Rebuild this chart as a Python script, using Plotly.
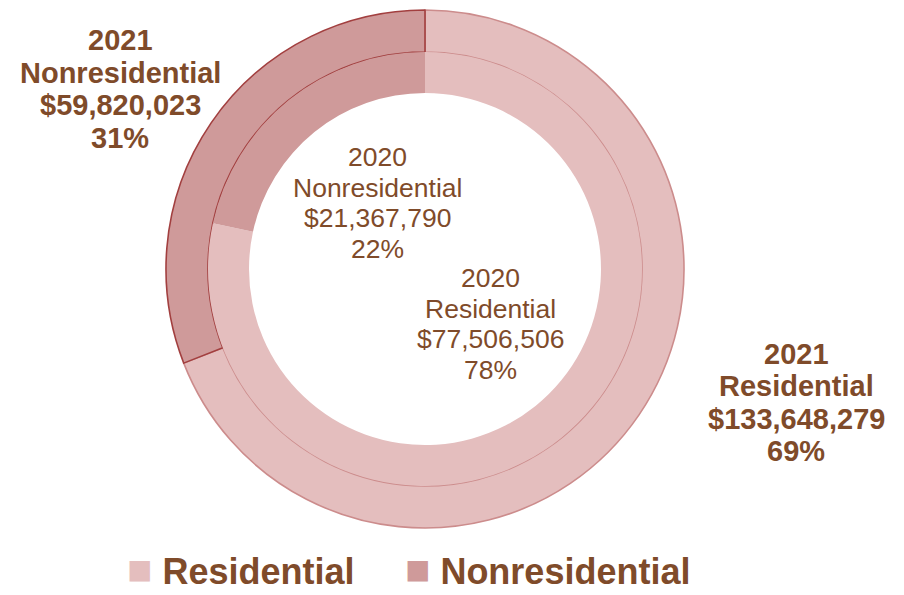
import plotly.graph_objects as go

# Building permit valuation by category
categories = ["Residential", "Nonresidential"]
values_2021 = [133648279, 59820023]
values_2020 = [77506506, 21367790]

fill_colors = ["#E4BEBE", "#CF9A9A"]
outer_line_colors = ["#CC8C8C", "#A23F3F"]
text_color = "#7F4B2A"
font_family = "Liberation Sans, Arial, sans-serif"

W, H = 904, 595
cx, cy = 425, 269          # ring centre in pixels
r_outer, r_mid, r_hole = 259, 217, 176


def dom(r):
    return dict(x=[(cx - r) / W, (cx + r) / W],
                y=[1 - (cy + r) / H, 1 - (cy - r) / H])


fig = go.Figure()

# 2021 outer ring
fig.add_trace(go.Pie(
    labels=categories, values=values_2021, sort=False, direction="clockwise",
    rotation=0, hole=r_mid / r_outer, domain=dom(r_outer),
    marker=dict(colors=fill_colors, line=dict(color=outer_line_colors, width=1.6)),
    textinfo="none", hoverinfo="label+value+percent", showlegend=False,
))

# 2020 inner ring
fig.add_trace(go.Pie(
    labels=categories, values=values_2020, sort=False, direction="clockwise",
    rotation=0, hole=r_hole / r_mid, domain=dom(r_mid),
    marker=dict(colors=fill_colors, line=dict(width=0)),
    textinfo="none", hoverinfo="label+value+percent", showlegend=False,
))


def label_lines(year, cat, val, total):
    pct = round(100 * val / total)
    return [str(year), cat, f"${val:,}", f"{pct}%"]


tot21 = sum(values_2021)
tot20 = sum(values_2020)

# (lines, centre x px, first-line y px, line step px, size, bold)
blocks = [
    (label_lines(2021, categories[1], values_2021[1], tot21), 120, 41, 32.7, 29, True),
    (label_lines(2021, categories[0], values_2021[0], tot21), 796, 355, 32.3, 29, True),
    (label_lines(2020, categories[1], values_2020[1], tot20), 377, 158, 30.7, 26.5, False),
    (label_lines(2020, categories[0], values_2020[0], tot20), 490, 279, 30.7, 26.5, False),
]
for lines, x, y0, step, size, bold in blocks:
    for i, line in enumerate(lines):
        fig.add_annotation(
            text=f"<b>{line}</b>" if bold else line,
            x=x / W, y=1 - (y0 + i * step - 1) / H, xref="paper", yref="paper",
            xanchor="center", yanchor="middle", showarrow=False, align="center",
            font=dict(family=font_family, size=size, color=text_color),
        )

# Legend row
legend_pos = [240, 547]
for cat, col, x in zip(categories, fill_colors, legend_pos):
    fig.add_annotation(
        text=f"<span style='color:{col};font-size:42px'>■</span><b> {cat}</b>",
        x=x / W, y=0, xref="paper", yref="paper",
        xanchor="center", yanchor="bottom", showarrow=False,
        font=dict(family=font_family, size=36, color=text_color),
    )

fig.update_layout(
    width=W, height=H, margin=dict(l=0, r=0, t=0, b=0),
    paper_bgcolor="white", plot_bgcolor="white", showlegend=False,
)

fig.write_html("out.html")
